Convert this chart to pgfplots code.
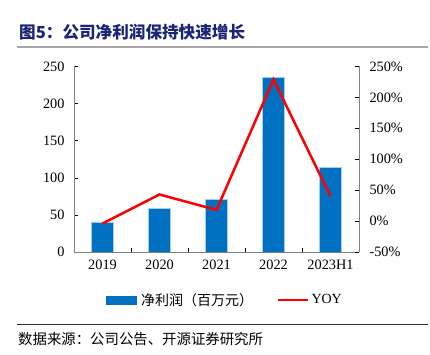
\documentclass[border=0pt]{standalone}
\usepackage{pgfplots}
\pgfplotsset{compat=1.18}
\usepackage{fontspec}
\setmainfont{Liberation Serif}
\newfontfamily\cjk{Noto Sans CJK SC}
\definecolor{barblue}{HTML}{0070C0}
\definecolor{titleblue}{HTML}{1C2475}
\begin{document}
\begin{tikzpicture}[x=1pt,y=1pt]
\path (0,0) rectangle (430,355);
\node[anchor=west, text=titleblue, font=\cjk\bfseries\fontsize{16.6}{18}\selectfont, inner sep=0] at (19,323) {图5：公司净利润保持快速增长};
\draw[gray!70, line width=1.5pt] (17,308) -- (428,308);
\draw[black!80, line width=0.8pt] (17,31) -- (428,31);
\node[anchor=west, font=\cjk\fontsize{14.4}{16}\selectfont, inner sep=0] at (18,16) {数据来源：公司公告、开源证券研究所};

\begin{axis}[
  at={(74pt,103pt)}, anchor=south west, scale only axis,
  width=285pt, height=185.5pt,
  xmin=-0.5, xmax=4.5, ymin=0, ymax=250,
  axis x line*=bottom, axis y line*=left,
  axis line style={gray, line width=0.8pt},
  tick align=inside,
  xtick={0,1,2,3,4},
  xticklabels={2019,2020,2021,2022,2023H1},
  minor xtick={0.5,1.5,2.5,3.5},
  major x tick style={draw=none},
  minor x tick style={draw=black, thin},
  minor tick length=4pt,
  major tick length=4pt,
  y tick style={draw=black, thin},
  ytick={0,50,100,150,200,250},
  tick label style={font=\fontsize{14.3}{16}\selectfont},
  /pgf/number format/assume math mode=true,
  xticklabel style={yshift=-4pt},
  yticklabel style={xshift=-6pt},
]
\addplot[ybar, bar width=22pt, fill=barblue, draw=barblue!35] coordinates {(0,40.5) (1,59) (2,70.5) (3,235.5) (4,114.5)};
\end{axis}

\begin{axis}[
  at={(74pt,103pt)}, anchor=south west, scale only axis,
  width=285pt, height=185.5pt,
  xmin=-0.5, xmax=4.5, ymin=-50, ymax=250,
  axis x line=none, axis y line*=right,
  axis line style={gray, line width=0.8pt},
  tick align=inside,
  major tick length=4pt,
  y tick style={draw=black, thin},
  ytick={-50,0,50,100,150,200,250},
  yticklabel={\pgfmathprintnumber{\tick}\%},
  tick label style={font=\fontsize{14.3}{16}\selectfont},
  yticklabel style={xshift=7pt},
  /pgf/number format/assume math mode=true,
  legend columns=2,
  legend style={draw=none, at={(0.53,-0.259)}, anchor=center, font=\fontsize{14}{16}\selectfont, /tikz/every even column/.append style={column sep=22pt}},
]
\addlegendimage{legend image code/.code={\fill[barblue] (0pt,-4pt) rectangle (30pt,4pt);}}
\addlegendentry{\cjk\,净利润（百万元）}
\addplot[red, line width=2.5pt, mark=none, legend image code/.code={\draw[red, line width=2.5pt] (0pt,0pt) -- (30pt,0pt);}] coordinates {(0,-4) (1,43) (2,18) (3,229) (4,40)};
\addlegendentry{YOY}
\end{axis}
\end{tikzpicture}
\end{document}
